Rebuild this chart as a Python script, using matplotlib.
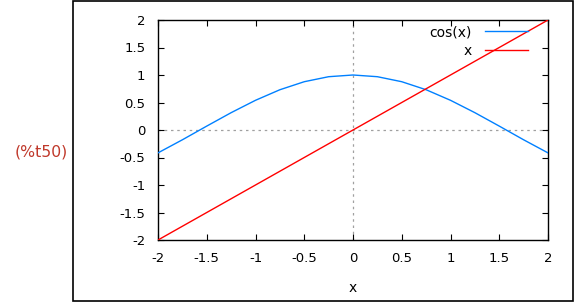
import matplotlib
matplotlib.use("Agg")
import matplotlib.pyplot as plt
from matplotlib.patches import Rectangle

# ------------------------------------
# Data
# ------------------------------------
x_cos = [-2.0, -1.75, -1.5, -1.25, -1.0, -0.75, -0.5, -0.25, 0.0,
         0.25, 0.5, 0.75, 1.0, 1.25, 1.5, 1.75, 2.0]
y_cos = [-0.416, -0.178, 0.071, 0.315, 0.540, 0.732, 0.878, 0.969, 1.0,
         0.969, 0.878, 0.732, 0.540, 0.315, 0.071, -0.178, -0.416]
x_lin = [-2.0, 2.0]
y_lin = [-2.0, 2.0]

xticks = [-2, -1.5, -1, -0.5, 0, 0.5, 1, 1.5, 2]
yticks = [-2, -1.5, -1, -0.5, 0, 0.5, 1, 1.5, 2]
tick_labels = ["-2", "-1.5", "-1", "-0.5", "0", "0.5", "1", "1.5", "2"]

W, H = 574, 302
plt.rcParams["font.family"] = "DejaVu Sans"
plt.rcParams["font.size"] = 9.5

fig = plt.figure(figsize=(W / 100, H / 100), dpi=100)

# outer frame
fig.patches.append(Rectangle((72.5 / W, 1.5 / H), 500 / W, 300 / H,
                             transform=fig.transFigure, fill=False,
                             edgecolor="black", linewidth=1.2))
fig.text(41.5 / W, 1 - 152 / H, "(%t50)", color="#c0392b", fontsize=11.3,
         ha="center", va="center")

ax = fig.add_axes([158 / W, 1 - 240 / H, 390 / W, 220 / H])
ax.axhline(0, color="#a0a0a0", lw=0.9, ls=(0, (2, 3)), zorder=1)
ax.axvline(0, color="#a0a0a0", lw=0.9, ls=(0, (2, 3)), zorder=1)

ax.plot(x_cos, y_cos, color="#0080ff", lw=1.0, label="cos(x)", zorder=3)
ax.plot(x_lin, y_lin, color="#ff0000", lw=1.0, label="x", zorder=3)

ax.set_xlim(-2, 2)
ax.set_ylim(-2, 2)
ax.set_xticks(xticks)
ax.set_xticklabels(tick_labels)
ax.set_yticks(yticks)
ax.set_yticklabels(tick_labels)
ax.tick_params(direction="in", length=4, width=0.8, top=True, right=True,
               pad=9, labelsize=9.5)
for s in ax.spines.values():
    s.set_linewidth(1.0)
ax.set_xlabel("x", labelpad=11.5, fontsize=10)

leg = ax.legend(loc="upper right", frameon=False, markerfirst=False,
                bbox_to_anchor=((528 - 158) / 390, 1 - 5 / 220),
                borderaxespad=0, borderpad=0,
                handlelength=3.1, handletextpad=0.95, labelspacing=0.35,
                fontsize=10)
for t in leg.get_texts():
    t.set_ha("right")

fig.savefig("out.png", dpi=100)
